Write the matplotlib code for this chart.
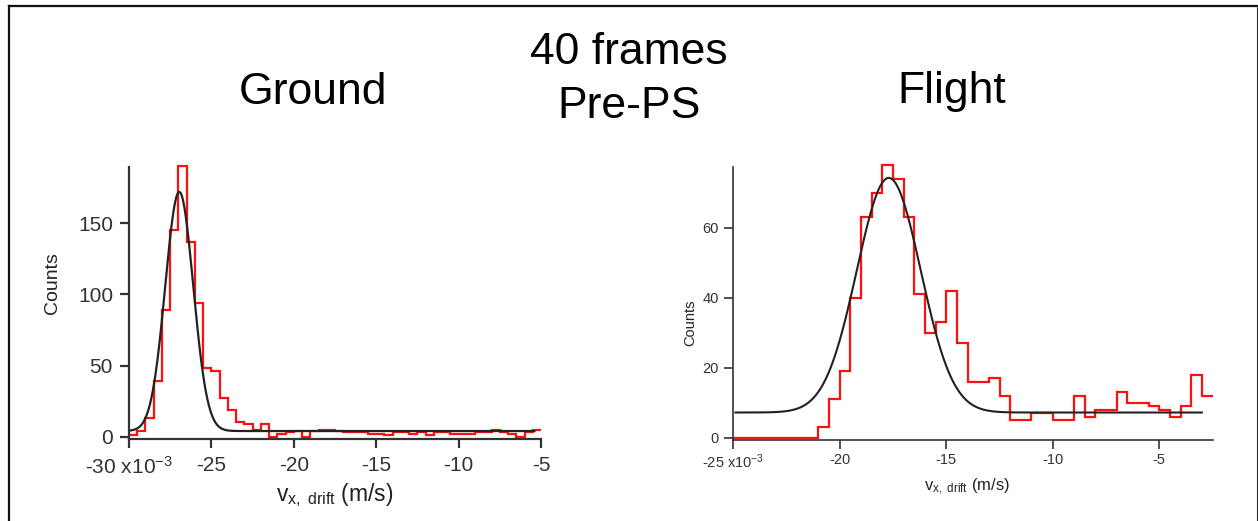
import numpy as np
import matplotlib.pyplot as plt
from matplotlib.lines import Line2D

plt.rcParams['font.family'] = ['Liberation Sans', 'DejaVu Sans']
plt.rcParams['mathtext.fontset'] = 'custom'
plt.rcParams['mathtext.rm'] = 'Liberation Sans'
plt.rcParams['mathtext.it'] = 'Liberation Sans'

# ---- data (velocities in units of 1e-3 m/s) ----
bin_width = 0.5

ground_start = -30.0
ground_counts = [1, 4, 13, 39, 89, 145, 190, 137, 94, 48, 46, 27, 19,
                 10, 9, 5, 9,
                 0, 2, 3, 4, 0, 4, 5, 5, 4, 3, 3, 3, 2, 2, 1, 3, 3, 2,
                 3, 1, 3, 3, 2, 2, 2, 3, 3, 5, 3, 2, 0, 3, 5]
# gaussian fit: baseline, amplitude, centre, sigma, x range
ground_fit = dict(y0=4.0, A=168.0, x0=-26.95, sigma=0.85, xmin=-29.9, xmax=-5.4)

flight_start = -25.0
flight_counts = [0, 0, 0, 0, 0, 0, 0, 0,
                 3, 11, 19, 40, 63, 70, 78, 74, 63, 41, 30, 33, 42, 27,
                 16, 16, 17, 12, 5, 5, 7, 7, 5, 5, 12, 6, 8, 8, 13, 10,
                 10, 9, 8, 6, 9, 18, 12]
flight_fit = dict(y0=7.2, A=67.0, x0=-17.7, sigma=1.5, xmin=-24.9, xmax=-3.0)

ground_xticks = [-30, -25, -20, -15, -10, -5]
ground_xlabels = ['-30 x10$^{\\mathregular{-3}}$', '-25', '-20', '-15', '-10', '-5']
ground_yticks = [0, 50, 100, 150]

flight_xticks = [-25, -20, -15, -10, -5]
flight_xlabels = ['-25 x10$^{\\mathregular{-3}}$', '-20', '-15', '-10', '-5']
flight_yticks = [0, 20, 40, 60]

xlabel_text = 'v$_{\\mathregular{x,\\ drift}}$ (m/s)'


def gauss(p):
    x = np.linspace(p['xmin'], p['xmax'], 600)
    return x, p['y0'] + p['A'] * np.exp(-(x - p['x0']) ** 2 / (2 * p['sigma'] ** 2))


def style_axis(ax, lw, fs, tick_len, xpad, ypad):
    for s in ['top', 'right']:
        ax.spines[s].set_visible(False)
    for s in ['left', 'bottom']:
        ax.spines[s].set_linewidth(lw)
        ax.spines[s].set_color('#333333')
    ax.tick_params(direction='out', length=tick_len, width=lw, colors='#333333',
                   labelsize=fs, labelcolor='#333333')
    ax.tick_params(axis='x', pad=xpad)
    ax.tick_params(axis='y', pad=ypad)


W, H = 1258, 521
fig = plt.figure(figsize=(W / 100, H / 100), dpi=100)

# ---- Ground panel ----
ax1 = fig.add_axes([129 / W, 1 - 439 / H, 412 / W, 272 / H])
edges = ground_start + bin_width * np.arange(len(ground_counts) + 1)
ax1.stairs(ground_counts, edges, baseline=None, color='#ff1010', lw=1.6, clip_on=False)
fx, fy = gauss(ground_fit)
ax1.plot(fx, fy, color='#222222', lw=1.6)
ax1.set_xlim(-30, -5)
ax1.set_ylim(-1.6, 189.5)
ax1.set_xticks(ground_xticks)
ax1.set_xticklabels(ground_xlabels)
ax1.set_yticks(ground_yticks)
style_axis(ax1, 1.6, 15, 6.5, 6, 5)
ax1.text(-0.185, 0.575, 'Counts', rotation=90, fontsize=14, color='#222222',
         ha='center', va='center', transform=ax1.transAxes)
ax1.text(0.5, -0.205, xlabel_text, fontsize=16.5, color='#222222',
         ha='center', va='center', transform=ax1.transAxes)

# ---- Flight panel ----
ax2 = fig.add_axes([733.3 / W, 1 - 440 / H, 479.2 / W, 273.3 / H])
edges = flight_start + bin_width * np.arange(len(flight_counts) + 1)
ax2.stairs(flight_counts, edges, baseline=None, color='#ff1010', lw=1.6, clip_on=False)
fx, fy = gauss(flight_fit)
ax2.plot(fx, fy, color='#222222', lw=1.5)
ax2.set_xlim(-25, -2.5)
ax2.set_ylim(-0.65, 77.4)
ax2.set_xticks(flight_xticks)
ax2.set_xticklabels(flight_xlabels)
ax2.set_yticks(flight_yticks)
style_axis(ax2, 1.2, 10.5, 6.5, 2.5, 4)
ax2.text(-0.09, 0.43, 'Counts', rotation=90, fontsize=10.5, color='#222222',
         ha='center', va='center', transform=ax2.transAxes)
ax2.text(0.488, -0.172, xlabel_text, fontsize=12, color='#222222',
         ha='center', va='center', transform=ax2.transAxes)

# ---- titles ----
fig.text(313 / W, 1 - 92 / H, 'Ground', fontsize=32, ha='center', va='center')
fig.text(952 / W, 1 - 92 / H, 'Flight', fontsize=32, ha='center', va='center')
fig.text(629 / W, 1 - 53 / H, '40 frames', fontsize=32, ha='center', va='center')
fig.text(629 / W, 1 - 106 / H, 'Pre-PS', fontsize=32, ha='center', va='center')

# ---- outer frame ----
fig.add_artist(Line2D([8.5 / W, 8.5 / W], [0, 1 - 6 / H], color='#111111', lw=1.6))
fig.add_artist(Line2D([8.5 / W, 1256.5 / W], [1 - 6 / H, 1 - 6 / H], color='#111111', lw=1.6))
fig.add_artist(Line2D([1256.5 / W, 1256.5 / W], [0, 1 - 6 / H], color='#333333', lw=0.8))

fig.savefig('out.png', dpi=100)
